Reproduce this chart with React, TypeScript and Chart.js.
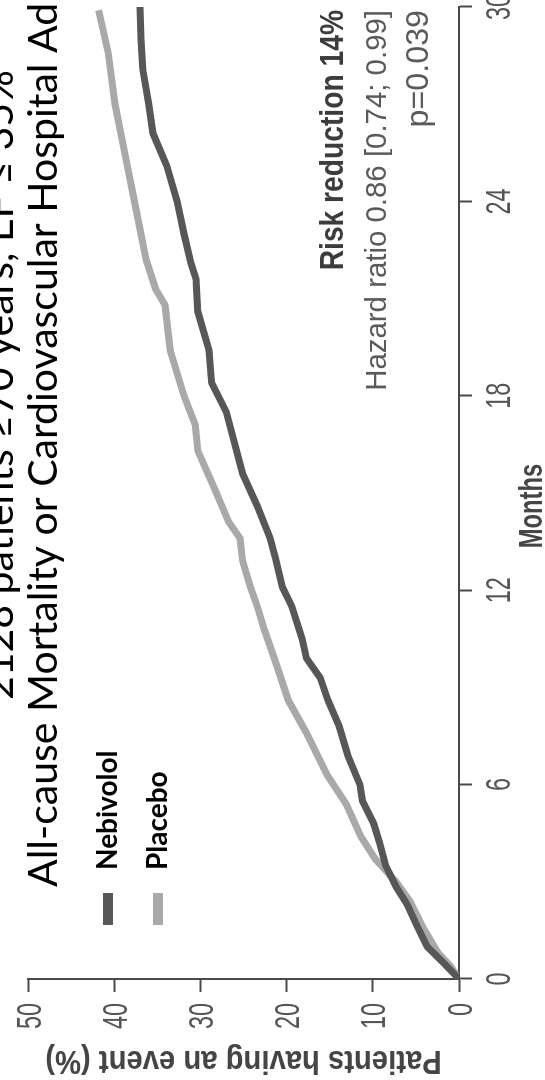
import React, { useEffect, useRef } from "react";
import { Chart, registerables } from "chart.js";

Chart.register(...registerables);

// Axis ticks
const monthTicks = [0, 6, 12, 18, 24, 30];
const percentTicks = [0, 10, 20, 30, 40, 50];

// Kaplan-Meier style cumulative event curves (month, % of patients with event)
const nebivololMonths = [
  0, 0.5, 1.0, 1.6, 2.3, 2.85, 3.5, 4.2, 4.8, 5.5, 6.0, 6.9, 7.8, 8.6, 9.3, 9.9,
  10.5, 11.5, 12.1, 13.0, 13.6, 14.6, 15.6, 16.5, 17.5, 18.4, 19.4, 20.6, 21.6,
  22.1, 23.0, 24.0, 25.1, 26.1, 27.0, 28.1, 29.0, 30.0,
];
const nebivololPct = [
  0, 1.8, 3.7, 4.8, 6.0, 7.3, 8.5, 9.2, 9.9, 11.2, 11.5, 12.9, 13.9, 15.2, 16.1,
  17.7, 18.2, 19.4, 20.5, 21.3, 21.9, 23.4, 25.1, 26.0, 27.0, 28.7, 29.0, 30.3,
  30.5, 31.1, 31.9, 32.7, 33.9, 35.5, 36.0, 36.7, 36.9, 37.0,
];
const placeboMonths = [
  0, 0.4, 0.8, 1.6, 2.4, 3.0, 3.7, 4.4, 5.4, 6.3, 7.6, 8.6, 9.8, 10.8, 11.5,
  12.1, 12.9, 13.6, 14.1, 15.1, 16.3, 17.1, 18.0, 19.4, 20.8, 21.3, 22.2, 23.8,
  25.4, 27.0, 28.6, 29.9,
];
const placeboPct = [
  0, 1.0, 2.4, 4.2, 5.7, 7.3, 9.7, 11.4, 13.1, 15.3, 17.7, 19.8, 21.3, 22.6, 23.4,
  24.2, 25.1, 25.4, 26.7, 28.3, 30.3, 30.6, 31.9, 33.5, 34.1, 35.2, 36.3, 37.5,
  38.7, 39.9, 40.7, 41.8,
];

const seriesNames = ["Nebivolol", "Placebo"];
const seriesColors = ["#575757", "#a9a9a9"];

const titleLines = [
  "2128 patients ≥70 years, EF ≤ 35%",
  "All-cause Mortality or Cardiovascular Hospital Admission",
];
const statLines = ["Risk reduction 14%", "Hazard ratio 0.86 [0.74; 0.99]", "p=0.039"];
const xTitle = "Months";
const yTitle = "Patients having an event (%)";

const sans = "'Liberation Sans', Arial, sans-serif";
const titleFamily = "Lato, 'Open Sans', sans-serif";

type TextStyle = {
  font: string;
  color: string;
  align: CanvasTextAlign;
  scaleX: number;
  rotate?: number;
};

// Condensed text: horizontal squeeze applied around the anchor point
function drawText(ctx: CanvasRenderingContext2D, text: string, x: number, y: number, s: TextStyle) {
  ctx.save();
  ctx.translate(x, y);
  if (s.rotate) ctx.rotate(s.rotate);
  ctx.scale(s.scaleX, 1);
  ctx.font = s.font;
  ctx.fillStyle = s.color;
  ctx.textAlign = s.align;
  ctx.textBaseline = "alphabetic";
  ctx.fillText(text, 0, 0);
  ctx.restore();
}

const tickStyle = (align: CanvasTextAlign): TextStyle => ({
  font: `400 35px ${sans}`,
  color: "#555",
  align,
  scaleX: 0.67,
});

// Axis labels, heading, inline legend and the hazard-ratio note
const overlayPlugin = {
  id: "overlay",
  afterDraw(chart: any) {
    const { ctx, chartArea } = chart;
    const xs = chart.scales.x;
    const ys = chart.scales.y;

    // tick labels
    monthTicks.forEach((v) => {
      drawText(ctx, String(v), xs.getPixelForValue(v), chartArea.bottom + 51, tickStyle("center"));
    });
    percentTicks.forEach((v) => {
      drawText(ctx, String(v), chartArea.left - 24, ys.getPixelForValue(v) + 12.5, tickStyle("right"));
    });

    // axis titles
    drawText(ctx, xTitle, (chartArea.left + chartArea.right) / 2 - 13, chartArea.bottom + 83, {
      font: `700 33px ${sans}`,
      color: "#454545",
      align: "center",
      scaleX: 0.72,
    });
    drawText(ctx, yTitle, 29, (chartArea.top + chartArea.bottom) / 2, {
      font: `700 34px ${sans}`,
      color: "#454545",
      align: "center",
      scaleX: 0.86,
      rotate: -Math.PI / 2,
    });

    // heading
    ctx.save();
    ctx.fillStyle = "#000";
    ctx.textAlign = "left";
    ctx.textBaseline = "alphabetic";
    ctx.font = `400 41px ${titleFamily}`;
    ctx.fillText(titleLines[0], 380, 13);
    ctx.fillText(titleLines[1], 193, 57);

    // legend
    const rows = [108, 158];
    seriesNames.forEach((name, i) => {
      ctx.strokeStyle = seriesColors[i];
      ctx.lineWidth = 10;
      ctx.beginPath();
      ctx.moveTo(155, rows[i]);
      ctx.lineTo(187, rows[i]);
      ctx.stroke();
      ctx.fillStyle = "#000";
      ctx.font = `700 28px ${titleFamily}`;
      ctx.fillText(name, 210, rows[i] + 9);
    });
    ctx.restore();

    // statistics note
    const rx = chartArea.right - 3;
    drawText(ctx, statLines[0], rx, chartArea.bottom - 116, {
      font: `700 34px ${sans}`,
      color: "#3c3c3c",
      align: "right",
      scaleX: 0.83,
    });
    drawText(ctx, statLines[1], rx, chartArea.bottom - 73, {
      font: `400 30px ${sans}`,
      color: "#5a5a5a",
      align: "right",
      scaleX: 0.98,
    });
    drawText(ctx, statLines[2], rx, chartArea.bottom - 31, {
      font: `400 31px ${sans}`,
      color: "#5a5a5a",
      align: "right",
      scaleX: 1.04,
    });
  },
};

export default function App() {
  const canvasRef = useRef<HTMLCanvasElement | null>(null);

  useEffect(() => {
    const canvas = canvasRef.current;
    if (!canvas) return;

    const axisGrid = {
      drawOnChartArea: false,
      drawTicks: true,
      tickLength: 13,
      tickWidth: 2,
      color: "#4a4a4a",
    };

    const chart = new Chart(canvas, {
      type: "line",
      data: {
        datasets: [
          {
            label: seriesNames[0],
            data: nebivololMonths.map((m, i) => ({ x: m, y: nebivololPct[i] })),
            borderColor: seriesColors[0],
            borderWidth: 7,
            pointRadius: 0,
            tension: 0,
            order: 1,
          },
          {
            label: seriesNames[1],
            data: placeboMonths.map((m, i) => ({ x: m, y: placeboPct[i] })),
            borderColor: seriesColors[1],
            borderWidth: 7,
            pointRadius: 0,
            tension: 0,
            order: 2,
          },
        ],
      },
      options: {
        responsive: false,
        devicePixelRatio: 1,
        animation: false,
        layout: { padding: { left: 0, right: 7, top: 28, bottom: 0 } },
        plugins: {
          legend: { display: false },
          tooltip: { enabled: false },
        },
        scales: {
          x: {
            type: "linear",
            min: 0,
            max: 30,
            afterBuildTicks: (s: any) => {
              s.ticks = monthTicks.map((v) => ({ value: v }));
            },
            afterFit: (s: any) => {
              s.height = 86;
              s.paddingLeft = 0;
              s.paddingRight = 0;
            },
            grid: axisGrid,
            border: { display: true, color: "#4a4a4a", width: 2 },
            ticks: { display: false },
          },
          y: {
            type: "linear",
            min: 0,
            max: 50,
            afterBuildTicks: (s: any) => {
              s.ticks = percentTicks.map((v) => ({ value: v }));
            },
            afterFit: (s: any) => {
              s.width = 101;
              s.paddingTop = 0;
              s.paddingBottom = 0;
            },
            grid: axisGrid,
            border: { display: true, color: "#4a4a4a", width: 2 },
            ticks: { display: false },
          },
        },
      },
      plugins: [overlayPlugin],
    });

    return () => chart.destroy();
  }, []);

  return (
    <div
      style={{
        position: "fixed",
        left: 0,
        top: 0,
        width: 545,
        height: 1080,
        overflow: "hidden",
        background: "#fff",
      }}
    >
      <div
        style={{
          position: "absolute",
          left: 0,
          top: 0,
          width: 1080,
          height: 545,
          transformOrigin: "0 0",
          transform: "translate(0px, 1080px) rotate(-90deg)",
        }}
      >
        <canvas
          ref={canvasRef}
          width={1080}
          height={545}
          style={{ display: "block", width: 1080, height: 545 }}
        />
      </div>
    </div>
  );
}
